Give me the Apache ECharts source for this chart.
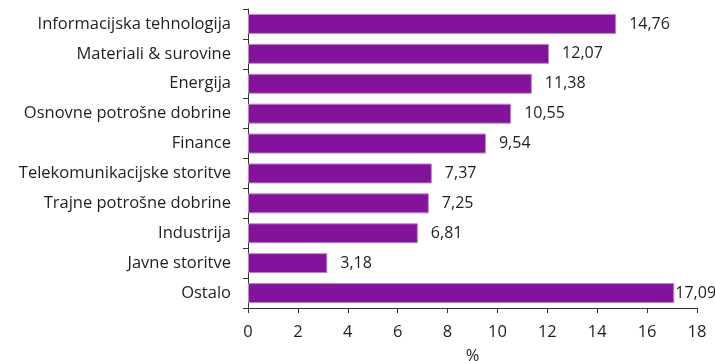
<!DOCTYPE html>
<html>
<head>
<meta charset="utf-8">
<script src="https://cdn.jsdelivr.net/npm/echarts@6/dist/echarts.min.js"></script>
<style>
  html, body { margin: 0; padding: 0; background: #fff; }
  #chart { width: 715px; height: 361px; }
</style>
</head>
<body>
<div id="chart"></div>
<script>
// Sector weights (%)
const categories = [
  'Informacijska tehnologija',
  'Materiali & surovine',
  'Energija',
  'Osnovne potrošne dobrine',
  'Finance',
  'Telekomunikacijske storitve',
  'Trajne potrošne dobrine',
  'Industrija',
  'Javne storitve',
  'Ostalo'
];
const weights = [14.76, 12.07, 11.38, 10.55, 9.54, 7.37, 7.25, 6.81, 3.18, 17.09];
const xTicks = [0, 2, 4, 6, 8, 10, 12, 14, 16, 18];
const axisTitle = '%';

const textColor = '#1e1e1e';
const fontFamily = '"Open Sans", sans-serif';
const fontSize = 16.5;
const valueFontSize = 16;

// Long bars near the right edge get their label pulled in closer
const seriesData = weights.map(v => ({
  value: v,
  label: { distance: v > 16 ? 1 : 13 }
}));

const chart = echarts.init(document.getElementById('chart'), null, { renderer: 'canvas' });
chart.setOption({
  animation: false,
  backgroundColor: '#ffffff',
  grid: {
    left: 248, right: 18, top: 9, bottom: 53,
    containLabel: false,
    outerBoundsMode: 'none'
  },
  xAxis: {
    type: 'value',
    min: xTicks[0],
    max: xTicks[xTicks.length - 1],
    interval: xTicks[1] - xTicks[0],
    name: axisTitle,
    nameLocation: 'middle',
    nameGap: 40,
    nameTextStyle: { color: textColor, fontSize: fontSize, fontFamily },
    axisLine: { show: true, lineStyle: { color: '#333', width: 1 } },
    axisTick: { show: true, length: 5, inside: false, lineStyle: { color: '#333' } },
    axisLabel: { color: textColor, fontSize: fontSize, fontFamily, margin: 16 },
    splitLine: { show: false }
  },
  yAxis: {
    type: 'category',
    data: categories,
    inverse: true,
    axisLine: { show: true, lineStyle: { color: '#333', width: 1 } },
    axisTick: { show: true, length: 5, lineStyle: { color: '#333' } },
    axisLabel: { color: textColor, fontSize: fontSize, fontFamily, margin: 17 }
  },
  series: [{
    type: 'bar',
    data: seriesData,
    barWidth: 20,
    itemStyle: { color: '#84139b', borderColor: '#b58cc2', borderWidth: 1 },
    label: {
      show: true,
      position: 'right',
      color: textColor,
      fontSize: valueFontSize,
      fontFamily,
      formatter: p => p.value.toFixed(2).replace('.', ',')
    }
  }]
});
</script>
</body>
</html>
